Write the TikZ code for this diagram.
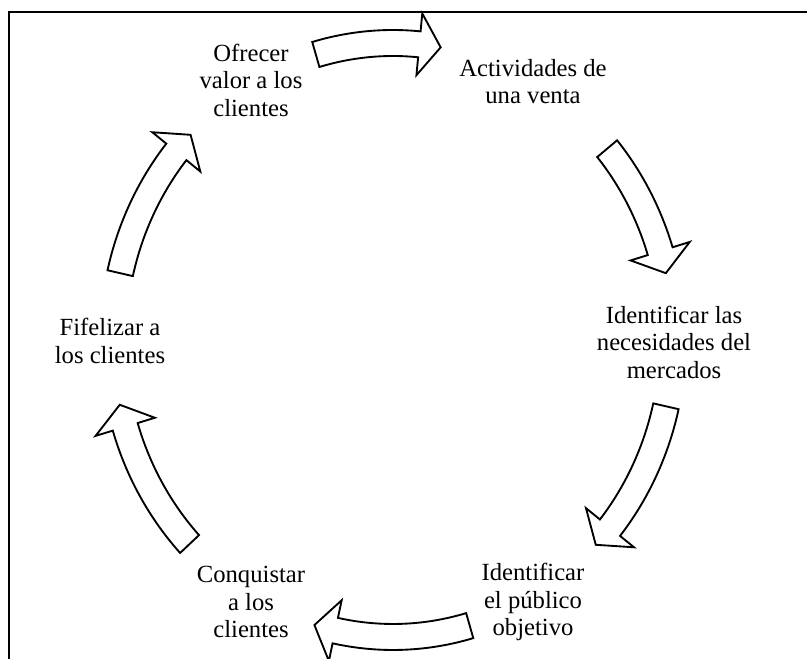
\documentclass[tikz,border=0pt]{standalone}
\usepackage{fontspec}
\setmainfont{Liberation Serif}
\tikzset{
    cyclearrow/.style = {draw, fill = white, line width = 1.4pt, line join = miter},
    stage/.style = {align = center, inner sep = 0pt, font = \fontsize{18.5}{20.6}\selectfont}
}
\begin{document}
\begin{tikzpicture}[x = 0.75pt, y = 0.75pt]
    \useasboundingbox (0,0) rectangle (807,659);
    \draw[line width = 1.5pt] (9,0) -- (9,646.5) -- (807,646.5);
    \coordinate (centre) at (393,319);
    \begin{scope}[shift = {(centre)}]
        \node[stage] (ofrecer) at (-142,260) {Ofrecer\\valor a los\\clientes};
        \node[stage] (actividades) at (140,258.5) {Actividades de\\una venta};
        \node[stage] (necesidades) at (281,-2) {Identificar las\\necesidades del\\mercados};
        \node[stage] (publico) at (140,-262) {Identificar\\el público\\objetivo};
        \node[stage] (conquistar) at (-142,-262) {Conquistar\\a los\\clientes};
        \node[stage] (fidelizar) at (-283,-1) {Fifelizar a\\los clientes};
        % curved block arrows round the cycle
        \foreach \tail/\tip in {106/80.2, 40.1/13, -12.9/-43.6, -74.1/-106.3, -136.6/-167.4, 167/136.3} {
            \pgfmathsetmacro{\notch}{\tip + 4.4}
            \draw[cyclearrow] (\tail:293 and 310)
                arc[start angle = \tail, end angle = \notch, x radius = 293, y radius = 310]
                -- (\notch:311 and 328) -- (\tip:280 and 297) -- (\notch:249 and 266) -- (\notch:267 and 284)
                arc[start angle = \notch, end angle = \tail, x radius = 267, y radius = 284] -- cycle;
        }
    \end{scope}
\end{tikzpicture}
\end{document}
